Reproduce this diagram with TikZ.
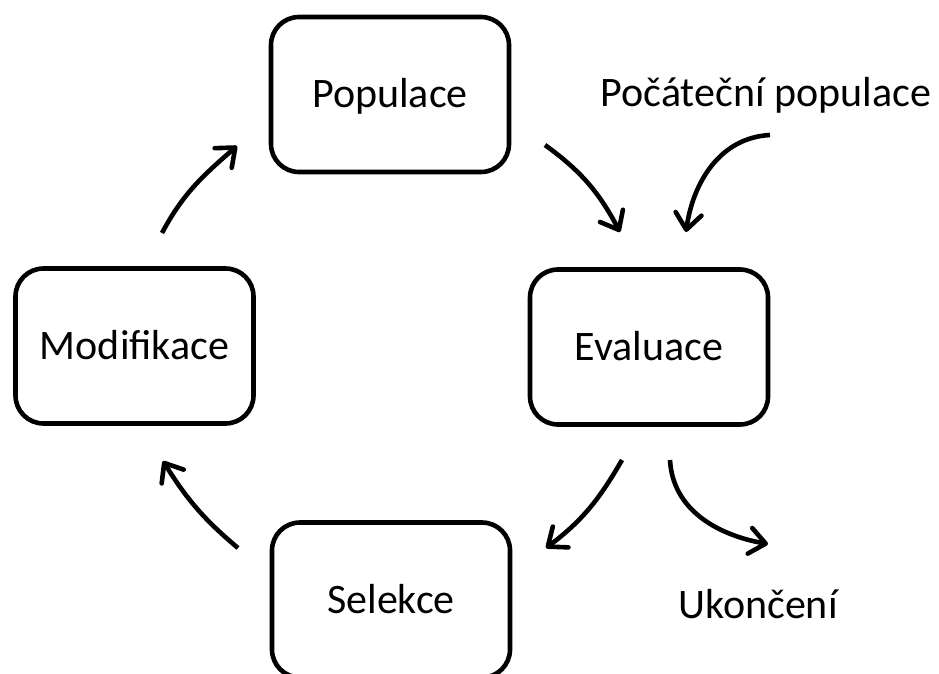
\documentclass[tikz,border=0pt]{standalone}
\usepackage{fontspec}
\setmainfont{Carlito}
\usetikzlibrary{arrows.meta}
\begin{document}
\begin{tikzpicture}[x=1pt,y=1pt,
  box/.style={draw=black, line width=4.6pt, rounded corners=28pt,
    minimum width=238pt, minimum height=155pt, inner sep=0pt,
    text height=27pt, text depth=0pt, font=\fontsize{42}{50}\selectfont},
  lbl/.style={inner sep=0pt, text height=27pt, text depth=0pt, font=\fontsize{42}{50}\selectfont},
  flow/.style={line width=4.6pt, -{Straight Barb[length=16pt,width=26pt,round]}}]
\useasboundingbox (0,0) rectangle (939,-674);
\clip (0,0) rectangle (939,-674);
\node[box] (pop) at (390,-94.5) {Populace};
\node[box] (eva) at (649,-347) {Evaluace};
\node[box] (mod) at (134.5,-346) {Modifikace};
\node[box] (sel) at (391,-600) {Selekce};
\node[lbl] (poc) at (766,-93.5) {Počáteční populace};
\node[lbl] (uko) at (758,-604.5) {Ukončení};
% arrow end points
\coordinate (a1s) at (545,-145); \coordinate (a1e) at (620,-232);
\coordinate (a2s) at (770,-135); \coordinate (a2e) at (686,-232);
\coordinate (a3s) at (622,-460); \coordinate (a3e) at (546,-548);
\coordinate (a4s) at (670,-460); \coordinate (a4e) at (768,-544);
\coordinate (a5s) at (238,-548); \coordinate (a5e) at (163,-461);
\coordinate (a6s) at (162,-233); \coordinate (a6e) at (237,-146);
\draw[flow] (a1s) to[out=-36,in=118] (a1e);
\draw[flow] (a2s) to[out=183,in=82] (a2e);
\draw[flow] (a3s) to[out=-120,in=37] (a3e);
\draw[flow] (a4s) to[out=-87,in=170] (a4e);
\draw[flow] (a5s) to[out=140,in=-58] (a5e);
\draw[flow] (a6s) to[out=62,in=221] (a6e);
\end{tikzpicture}
\end{document}
